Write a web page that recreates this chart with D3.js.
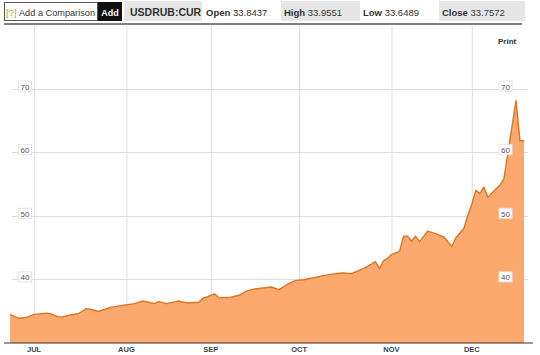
<!DOCTYPE html>
<html>
<head>
<meta charset="utf-8">
<script src="https://cdn.jsdelivr.net/npm/d3@7.9.0/dist/d3.min.js"></script>
<style>
  html, body { margin: 0; padding: 0; background: #fff; }
  svg { display: block; font-family: "Liberation Sans", Arial, sans-serif; }
</style>
</head>
<body>
<svg id="chart" width="540" height="355"></svg>
<script>
// USDRUB daily close (trading days only)
const dates = [
  '2014-06-23', '2014-06-25', '2014-06-27', '2014-07-01', '2014-07-04', '2014-07-07',
  '2014-07-09', '2014-07-10', '2014-07-14', '2014-07-16', '2014-07-18', '2014-07-21',
  '2014-07-23', '2014-07-28', '2014-07-31', '2014-08-05', '2014-08-07', '2014-08-12',
  '2014-08-13', '2014-08-15', '2014-08-20', '2014-08-22', '2014-08-27', '2014-08-28',
  '2014-09-01', '2014-09-02', '2014-09-03', '2014-09-08', '2014-09-10', '2014-09-12',
  '2014-09-16', '2014-09-22', '2014-09-24', '2014-09-26', '2014-09-30', '2014-10-02',
  '2014-10-07', '2014-10-09', '2014-10-14', '2014-10-16', '2014-10-20', '2014-10-23',
  '2014-10-27', '2014-10-28', '2014-10-29', '2014-10-30', '2014-10-31', '2014-11-03',
  '2014-11-05', '2014-11-06', '2014-11-07', '2014-11-10', '2014-11-11', '2014-11-12',
  '2014-11-14', '2014-11-18', '2014-11-20', '2014-11-24', '2014-11-25', '2014-11-27',
  '2014-11-28', '2014-12-01', '2014-12-02', '2014-12-03', '2014-12-04', '2014-12-05',
  '2014-12-08', '2014-12-09', '2014-12-10', '2014-12-11', '2014-12-16', '2014-12-17',
  '2014-12-18'
];
const rates = [
  34.5, 33.9, 34.0, 34.5, 34.7, 34.6,
  34.1, 34.1, 34.4, 34.6, 35.4, 35.3,
  34.95, 35.6, 35.9, 36.2, 36.6, 36.2,
  36.5, 36.2, 36.6, 36.3, 36.4, 37.0,
  37.5, 37.7, 37.1, 37.2, 37.5, 38.2,
  38.5, 38.8, 38.4, 39.2, 39.8, 39.95,
  40.3, 40.6, 40.9, 41.0, 40.9, 41.7,
  42.4, 42.8, 41.7, 42.9, 43.3, 43.9,
  44.4, 46.8, 46.8, 46.0, 46.8, 45.9,
  47.6, 47.2, 46.7, 45.2, 46.5, 48.0,
  50.0, 51.8, 54.0, 53.5, 54.5, 52.9,
  53.6, 54.2, 54.8, 55.8, 68.1, 61.8,
  61.8
];
const yTicks = [40, 50, 60, 70];
const monthStarts = ['2014-07-01', '2014-08-01', '2014-09-01', '2014-10-01', '2014-11-01', '2014-12-01'];
const monthLabels = ['JUL', 'AUG', 'SEP', 'OCT', 'NOV', 'DEC'];

const ticker = 'USDRUB:CUR';
const quoteLabels = ['Open', 'High', 'Low', 'Close'];
const quoteValues = ['33.8437', '33.9551', '33.6489', '33.7572'];

const parse = d3.timeParse('%Y-%m-%d');
const start = parse(dates[0]);
const isWeekday = (d) => d.getDay() !== 0 && d.getDay() !== 6;

// position along the axis = number of trading days since the first point
function dayIndex(d) {
  return d3.timeDay.range(d3.timeDay.offset(start, 1), d3.timeDay.offset(d, 1))
    .filter(isWeekday).length;
}
// first trading day on or after a date
function nextWeekday(d) {
  let t = d;
  while (!isWeekday(t)) t = d3.timeDay.offset(t, 1);
  return t;
}

const data = dates.map((d, i) => ({ date: parse(d), value: rates[i] }));
data.forEach((d) => { d.idx = dayIndex(d.date); });

const svg = d3.select('#chart');

const x = d3.scaleLinear()
  .domain(d3.extent(data, (d) => d.idx))
  .range([10, 524]);
const y = d3.scaleLinear()
  .domain([30, 80])
  .range([343, 25]);

// ---- header bar
const header = svg.append('g');
header.append('rect')
  .attr('x', 4.5).attr('y', 2.5).attr('width', 93).attr('height', 18)
  .attr('fill', '#fff').attr('stroke', '#555');
header.append('text')
  .attr('x', 6).attr('y', 15.5)
  .attr('font-size', 9.5)
  .attr('fill', '#c49a3c')
  .text('[?]');
header.append('text')
  .attr('x', 19).attr('y', 15.5)
  .attr('font-size', 9.5)
  .attr('fill', '#333')
  .attr('textLength', 76)
  .attr('lengthAdjust', 'spacingAndGlyphs')
  .text('Add a Comparison');
header.append('rect')
  .attr('x', 98).attr('y', 2).attr('width', 24).attr('height', 19)
  .attr('fill', '#111');
header.append('text')
  .attr('x', 110).attr('y', 15.5)
  .attr('text-anchor', 'middle')
  .attr('font-size', 9).attr('font-weight', 'bold')
  .attr('fill', '#fff')
  .text('Add');
header.append('rect')
  .attr('x', 124).attr('y', 1).attr('width', 78).attr('height', 20)
  .attr('fill', '#e6e6e6');
header.append('text')
  .attr('x', 130).attr('y', 15.5)
  .attr('font-size', 10.5).attr('font-weight', 'bold')
  .attr('fill', '#333')
  .text(ticker);

const quoteX = [206, 284, 363, 442];
const quoteBox = [null, [281, 79], null, [439, 86]];
quoteLabels.forEach((lab, i) => {
  if (quoteBox[i]) {
    header.append('rect')
      .attr('x', quoteBox[i][0]).attr('y', 1)
      .attr('width', quoteBox[i][1]).attr('height', 20)
      .attr('fill', '#e6e6e6');
  }
  const t = header.append('text')
    .attr('x', quoteX[i]).attr('y', 15.5)
    .attr('font-size', 9.5)
    .attr('fill', '#333');
  t.append('tspan').attr('font-weight', 'bold').text(lab);
  t.append('tspan').text(' ' + quoteValues[i]);
});

svg.append('line')
  .attr('x1', 4).attr('x2', 522)
  .attr('y1', 24).attr('y2', 24)
  .attr('stroke', '#555').attr('stroke-width', 1.5);

// ---- grid
const monthIdx = monthStarts.map((m) => dayIndex(nextWeekday(parse(m))));

svg.append('g')
  .selectAll('line')
  .data(monthIdx)
  .join('line')
  .attr('x1', (d) => x(d) + 0.5).attr('x2', (d) => x(d) + 0.5)
  .attr('y1', 26).attr('y2', y(30))
  .attr('stroke', '#dedede');

svg.append('g')
  .selectAll('line')
  .data(yTicks)
  .join('line')
  .attr('x1', 12).attr('x2', 528)
  .attr('y1', (d) => Math.round(y(d)) + 0.5).attr('y2', (d) => Math.round(y(d)) + 0.5)
  .attr('stroke', '#dedede');

// ---- series
const area = d3.area()
  .x((d) => x(d.idx))
  .y0(y(30))
  .y1((d) => y(d.value));
const line = d3.line()
  .x((d) => x(d.idx))
  .y((d) => y(d.value));

svg.append('path')
  .datum(data)
  .attr('d', area)
  .attr('fill', '#fba96f');
svg.append('path')
  .datum(data)
  .attr('d', line)
  .attr('fill', 'none')
  .attr('stroke', '#de7420')
  .attr('stroke-width', 1.4)
  .attr('stroke-linejoin', 'round');

// ---- y labels, both sides
function yLabels(cx) {
  const g = svg.append('g')
    .selectAll('g')
    .data(yTicks)
    .join('g')
    .attr('transform', (d) => `translate(${cx},${y(d) - 2})`);
  g.append('rect')
    .attr('x', -6.5).attr('y', -5.5).attr('width', 13).attr('height', 10)
    .attr('fill', '#fff').attr('stroke', '#e4e4e4');
  g.append('text')
    .attr('text-anchor', 'middle')
    .attr('y', 3)
    .attr('font-size', 8)
    .attr('fill', '#555')
    .text((d) => d);
}
yLabels(25);
yLabels(505.5);

svg.append('text')
  .attr('x', 498).attr('y', 44)
  .attr('font-size', 8).attr('font-weight', 'bold')
  .attr('fill', '#333')
  .text('Print');

// ---- x axis
svg.append('line')
  .attr('x1', 4).attr('x2', 533)
  .attr('y1', y(30)).attr('y2', y(30))
  .attr('stroke', '#333').attr('stroke-width', 1.2);

svg.append('g')
  .selectAll('text')
  .data(monthIdx)
  .join('text')
  .attr('x', (d) => x(d))
  .attr('y', 352)
  .attr('text-anchor', 'middle')
  .attr('font-size', 7.5).attr('font-weight', 'bold')
  .attr('fill', '#444')
  .text((d, i) => monthLabels[i]);
</script>
</body>
</html>
